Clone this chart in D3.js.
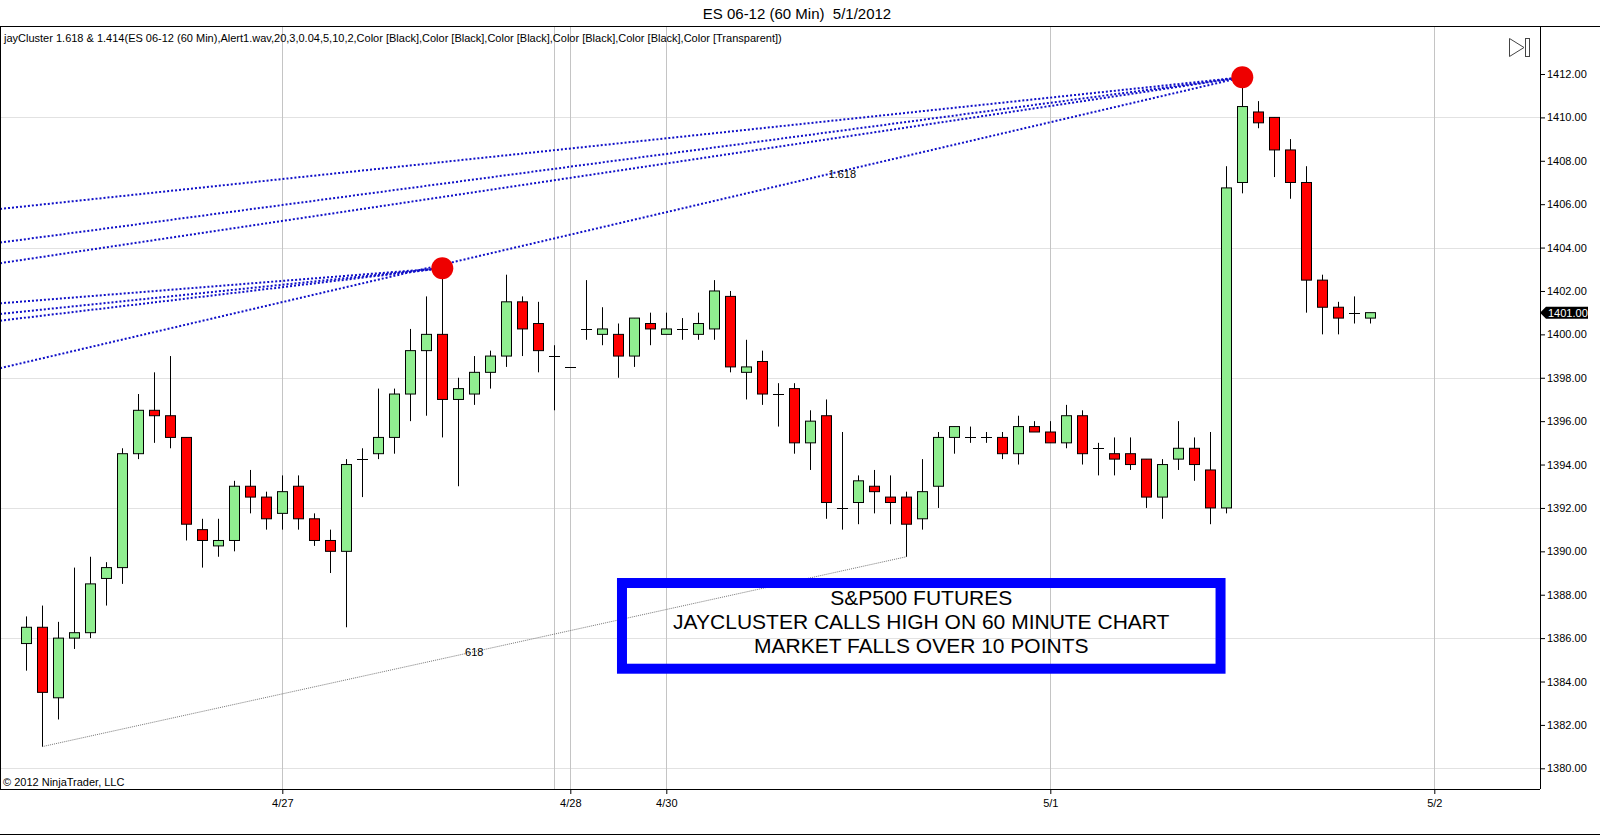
<!DOCTYPE html>
<html>
<head>
<meta charset="utf-8">
<script src="https://cdn.jsdelivr.net/npm/d3@7"></script>
<style>
  body { margin: 0; background: #fff; }
  svg { font-family: "Liberation Sans", Arial, sans-serif; }
  .axis text { font-size: 11px; fill: #000; }
  .axis path { display: none; }
  .axis line { stroke: #000; }
</style>
</head>
<body>
<div id="chart"></div>
<script>
// ES 06-12 60 min bars, 4/26 - 5/1/2012
var opens  = [1385.75,1386.5,1383.25,1386,1386.25,1388.75,1389.25,1394.5,1396.5,1396.25,
              1395.25,1391,1390.25,1390.5,1393,1392.5,1391.75,1393,1391.5,1390.5,
              1390,1394.25,1394.5,1395.25,1397.25,1399.25,1400,1397,1397.25,1398.25,
              1399,1401.5,1400.5,1399,1398.5,1400.25,1400,1400,1399,1400.5,
              1400,1400.25,1400,1400.25,1401.75,1398.25,1398.75,1397.25,1397.5,1395,
              1396.25,1392,1392.25,1393,1392.5,1392.5,1391.5,1393,1395.25,1395.25,
              1395.25,1395.25,1394.5,1395.75,1395.5,1395,1396.25,1394.75,1394.5,1394.5,
              1394.25,1392.5,1394.25,1394.75,1393.75,1392,1407,1410.25,1410,1408.5,
              1407,1402.5,1401.25,1401,1400.75];
var highs  = [1387,1387.5,1386.75,1389.25,1389.75,1389.5,1394.75,1397.25,1398.25,1399,
              1395.25,1391.5,1391.5,1393.25,1393.75,1392.75,1393.5,1393.5,1391.75,1391,
              1394.25,1394.75,1397.5,1397.5,1400.25,1401.75,1403,1398,1399,1399.25,
              1402.75,1401.75,1401.5,1399.5,1398.5,1402.5,1401.25,1400.5,1400.75,1401,
              1401,1400.75,1401,1402.5,1402,1399.75,1399.25,1397.75,1397.75,1396.5,
              1397,1395.5,1393.5,1393.75,1393.5,1392.75,1394.25,1395.5,1395.75,1395.75,
              1395.5,1395.5,1396.25,1396,1396,1396.75,1396.5,1395,1395.25,1395.25,
              1394.25,1394.25,1396,1395.25,1395.5,1407.75,1411.75,1410.75,1410,1409,
              1407.75,1402.75,1401.5,1401.75,1401];
var lows   = [1384.5,1381,1382.25,1385.5,1386,1387.5,1388.5,1394.25,1395,1394.75,
              1390.5,1389.25,1389.75,1390,1391.75,1391,1391,1391,1390.25,1389,
              1386.5,1392.5,1394.25,1394.5,1396,1396.25,1395.25,1393,1396.75,1397.5,
              1398.5,1399,1398.25,1396.5,1398.5,1399.75,1399.5,1398,1398.5,1399.5,
              1400,1399.75,1399.75,1399.75,1398.25,1397,1396.75,1395.75,1394.5,1393.75,
              1391.5,1391,1391.25,1391.75,1391.25,1389.75,1391,1392,1394.5,1395,
              1395,1394.25,1394,1395.5,1395,1394.75,1394,1393.5,1393.5,1393.75,
              1392,1391.5,1393.75,1393.25,1391.25,1391.75,1406.5,1409.5,1407.25,1406.25,
              1401,1400,1400,1400.5,1400.5];
var closes = [1386.5,1383.5,1386,1386.25,1388.5,1389.25,1394.5,1396.5,1396.25,1395.25,
              1391.25,1390.5,1390.5,1393,1392.5,1391.5,1392.75,1391.5,1390.5,1390,
              1394,1394.25,1395.25,1397.25,1399.25,1400,1397,1397.5,1398.25,1399,
              1401.5,1400.25,1399.25,1399,1398.5,1400.25,1400.25,1399,1400.75,1400.25,
              1400.25,1400.25,1400.5,1402,1398.5,1398.5,1397.25,1397.25,1395,1396,
              1392.25,1392,1393.25,1392.75,1392.25,1391.25,1392.75,1395.25,1395.75,1395.25,
              1395.25,1394.5,1395.75,1395.5,1395,1396.25,1394.5,1394.75,1394.25,1394,
              1392.5,1394,1394.75,1394,1392,1406.75,1410.5,1409.75,1408.5,1407,
              1402.5,1401.25,1400.75,1401,1401];

// date ticks (bar index of first bar of the day) and session break
var dateTickIdx = [16, 34, 40, 64, 88];
var dateTickLabels = ['4/27', '4/28', '4/30', '5/1', '5/2'];
var sessionBreakIdx = [33];

var priceTicks = d3.range(1380, 1413, 2);
var priceGrid = d3.range(1380, 1413, 6);
var lastPrice = 1401.00;

// jayCluster projection lines (start bar/price -> end bar/price)
var fibStartIdx   = [-1.64, -1.64, -1.64, -1.64, -1.64, -1.64, -1.64];
var fibStartPrice = [1405.78, 1404.23, 1403.28, 1398.44, 1401.43, 1400.94, 1400.63];
var fibEndIdx     = [76, 76, 76, 76, 26, 26, 26];
var fibEndPrice   = [1411.85, 1411.85, 1411.85, 1411.85, 1403.05, 1403.05, 1403.05];

// cluster hits (red dots)
var hitIdx = [26, 76];
var hitPrice = [1403.05, 1411.85];

// 618 swing line (low to low)
var swingIdx = [1, 55];
var swingPrice = [1381, 1389.75];

var noteLines = ['S&P500 FUTURES', 'JAYCLUSTER CALLS HIGH ON 60 MINUTE CHART', 'MARKET FALLS OVER 10 POINTS'];

var svgWidth = 1600;
var svgHeight = 835;
var plot = { left: 0, right: 1540, top: 27, bottom: 789 };

var svg = d3.select('#chart')
  .append('svg')
  .attr('width', svgWidth)
  .attr('height', svgHeight);

svg.append('rect')
  .attr('width', svgWidth)
  .attr('height', svgHeight)
  .attr('fill', '#fff');

var x = d3.scaleLinear().domain([0, 88]).range([26.3, 1434.3]);
var y = d3.scaleLinear().domain([1380, 1412]).range([768.3, 74]);

svg.append('clipPath')
  .attr('id', 'plotClip')
  .append('rect')
  .attr('x', plot.left)
  .attr('y', plot.top)
  .attr('width', plot.right - plot.left)
  .attr('height', plot.bottom - plot.top);

var chartGroup = svg.append('g').attr('clip-path', 'url(#plotClip)');

// grid
chartGroup.selectAll('.hgrid')
  .data(priceGrid)
  .enter()
  .append('line')
  .attr('x1', plot.left)
  .attr('x2', plot.right)
  .attr('y1', d => Math.round(y(d)) + 0.5)
  .attr('y2', d => Math.round(y(d)) + 0.5)
  .attr('stroke', '#e2e2e2');

chartGroup.selectAll('.vgrid')
  .data(dateTickIdx.concat(sessionBreakIdx))
  .enter()
  .append('line')
  .attr('x1', d => Math.round(x(d)) + 0.5)
  .attr('x2', d => Math.round(x(d)) + 0.5)
  .attr('y1', plot.top)
  .attr('y2', plot.bottom)
  .attr('stroke', '#c4c4c4');

// 618 swing line
chartGroup.append('line')
  .attr('x1', x(swingIdx[0]))
  .attr('y1', y(swingPrice[0]))
  .attr('x2', x(swingIdx[1]))
  .attr('y2', y(swingPrice[1]))
  .attr('stroke', '#777')
  .attr('stroke-width', 1)
  .attr('stroke-dasharray', '1,1');

chartGroup.append('text')
  .attr('x', x((swingIdx[0] + swingIdx[1]) / 2))
  .attr('y', y((swingPrice[0] + swingPrice[1]) / 2) + 4)
  .attr('text-anchor', 'middle')
  .attr('font-size', '11px')
  .text('618');

// candles
var bars = d3.range(opens.length);
var bodyW = 10;

chartGroup.selectAll('.wick')
  .data(bars)
  .enter()
  .append('line')
  .attr('x1', i => Math.round(x(i)) + 0.5)
  .attr('x2', i => Math.round(x(i)) + 0.5)
  .attr('y1', i => y(highs[i]))
  .attr('y2', i => y(lows[i]))
  .attr('stroke', '#000');

chartGroup.selectAll('.body')
  .data(bars.filter(i => opens[i] !== closes[i]))
  .enter()
  .append('rect')
  .attr('x', i => Math.round(x(i)) - bodyW / 2 + 0.5)
  .attr('y', i => y(Math.max(opens[i], closes[i])))
  .attr('width', bodyW)
  .attr('height', i => Math.abs(y(opens[i]) - y(closes[i])))
  .attr('fill', i => closes[i] > opens[i] ? '#90ee90' : '#ff0000')
  .attr('stroke', '#000')
  .attr('stroke-width', 1);

chartGroup.selectAll('.doji')
  .data(bars.filter(i => opens[i] === closes[i]))
  .enter()
  .append('line')
  .attr('x1', i => Math.round(x(i)) - bodyW / 2)
  .attr('x2', i => Math.round(x(i)) + bodyW / 2 + 1)
  .attr('y1', i => Math.round(y(opens[i])) + 0.5)
  .attr('y2', i => Math.round(y(opens[i])) + 0.5)
  .attr('stroke', '#000');

// jayCluster lines
chartGroup.selectAll('.fib')
  .data(fibStartIdx)
  .enter()
  .append('line')
  .attr('x1', (d, i) => x(fibStartIdx[i]))
  .attr('y1', (d, i) => y(fibStartPrice[i]))
  .attr('x2', (d, i) => x(fibEndIdx[i]))
  .attr('y2', (d, i) => y(fibEndPrice[i]))
  .attr('stroke', '#1010c8')
  .attr('stroke-width', 2)
  .attr('stroke-dasharray', '2,2');

chartGroup.append('text')
  .attr('x', x((hitIdx[0] + hitIdx[1]) / 2))
  .attr('y', y((hitPrice[0] + hitPrice[1]) / 2) + 5)
  .attr('text-anchor', 'middle')
  .attr('font-size', '11px')
  .text('1.618');

chartGroup.selectAll('.hit')
  .data(hitIdx)
  .enter()
  .append('circle')
  .attr('cx', (d, i) => x(hitIdx[i]))
  .attr('cy', (d, i) => y(hitPrice[i]))
  .attr('r', 11)
  .attr('fill', '#ee0000');

// annotation box
var boxX0 = x(37.23), boxX1 = x(74.64);
var boxY0 = y(1388.54), boxY1 = y(1384.59);
chartGroup.append('rect')
  .attr('x', boxX0)
  .attr('y', boxY0)
  .attr('width', boxX1 - boxX0)
  .attr('height', boxY1 - boxY0)
  .attr('fill', 'none')
  .attr('stroke', '#0000ff')
  .attr('stroke-width', 10);

chartGroup.selectAll('.note')
  .data(noteLines)
  .enter()
  .append('text')
  .attr('x', (boxX0 + boxX1) / 2)
  .attr('y', (d, i) => boxY0 + 22 + i * 24.2)
  .attr('text-anchor', 'middle')
  .attr('font-size', '21px')
  .attr('fill', '#000')
  .text(d => d);

// play button icon
var icon = svg.append('g').attr('fill', 'none').attr('stroke', '#444').attr('stroke-width', 1);
icon.append('path').attr('d', 'M1509.5,38.5 L1524,47.5 L1509.5,56.5 Z');
icon.append('rect').attr('x', 1525.5).attr('y', 38.5).attr('width', 4).attr('height', 18);

// axes
var rightAxis = d3.axisRight(y)
  .tickValues(priceTicks)
  .tickFormat(d3.format('.2f'))
  .tickSize(5)
  .tickPadding(2);

svg.append('g')
  .attr('class', 'axis')
  .attr('transform', `translate(${plot.right}, 0)`)
  .call(rightAxis);

var bottomAxis = d3.axisBottom(x)
  .tickValues(dateTickIdx)
  .tickFormat((d, i) => dateTickLabels[i])
  .tickSize(5)
  .tickPadding(5);

svg.append('g')
  .attr('class', 'axis')
  .attr('transform', `translate(0, ${plot.bottom})`)
  .call(bottomAxis);

// frame
svg.append('line').attr('x1', 0).attr('x2', svgWidth).attr('y1', 26.5).attr('y2', 26.5).attr('stroke', '#000');
svg.append('line').attr('x1', 0).attr('x2', svgWidth).attr('y1', 834.5).attr('y2', 834.5).attr('stroke', '#000');
svg.append('line').attr('x1', 0).attr('x2', plot.right).attr('y1', plot.bottom + 0.5).attr('y2', plot.bottom + 0.5).attr('stroke', '#000');
svg.append('line').attr('x1', plot.right + 0.5).attr('x2', plot.right + 0.5).attr('y1', plot.top).attr('y2', plot.bottom).attr('stroke', '#000');
svg.append('line').attr('x1', 0.5).attr('x2', 0.5).attr('y1', plot.top).attr('y2', plot.bottom).attr('stroke', '#000');

// last price marker
var ly = y(lastPrice);
svg.append('path')
  .attr('d', `M${plot.right},${ly} L${plot.right + 6},${ly - 6} L${plot.right + 48},${ly - 6} L${plot.right + 48},${ly + 6} L${plot.right + 6},${ly + 6} Z`)
  .attr('fill', '#000');
svg.append('text')
  .attr('x', plot.right + 8)
  .attr('y', ly + 4)
  .attr('font-size', '11px')
  .attr('fill', '#fff')
  .text(d3.format('.2f')(lastPrice));

// titles
svg.append('text')
  .attr('x', 797)
  .attr('y', 19)
  .attr('text-anchor', 'middle')
  .attr('font-size', '15px')
  .style('white-space', 'pre')
  .text('ES 06-12 (60 Min)  5/1/2012');

svg.append('text')
  .attr('x', 4)
  .attr('y', 42)
  .attr('font-size', '11px')
  .text('jayCluster 1.618 & 1.414(ES 06-12 (60 Min),Alert1.wav,20,3,0.04,5,10,2,Color [Black],Color [Black],Color [Black],Color [Black],Color [Black],Color [Transparent])');

svg.append('text')
  .attr('x', 3)
  .attr('y', 786)
  .attr('font-size', '11px')
  .text('\u00a9 2012 NinjaTrader, LLC');
</script>
</body>
</html>
